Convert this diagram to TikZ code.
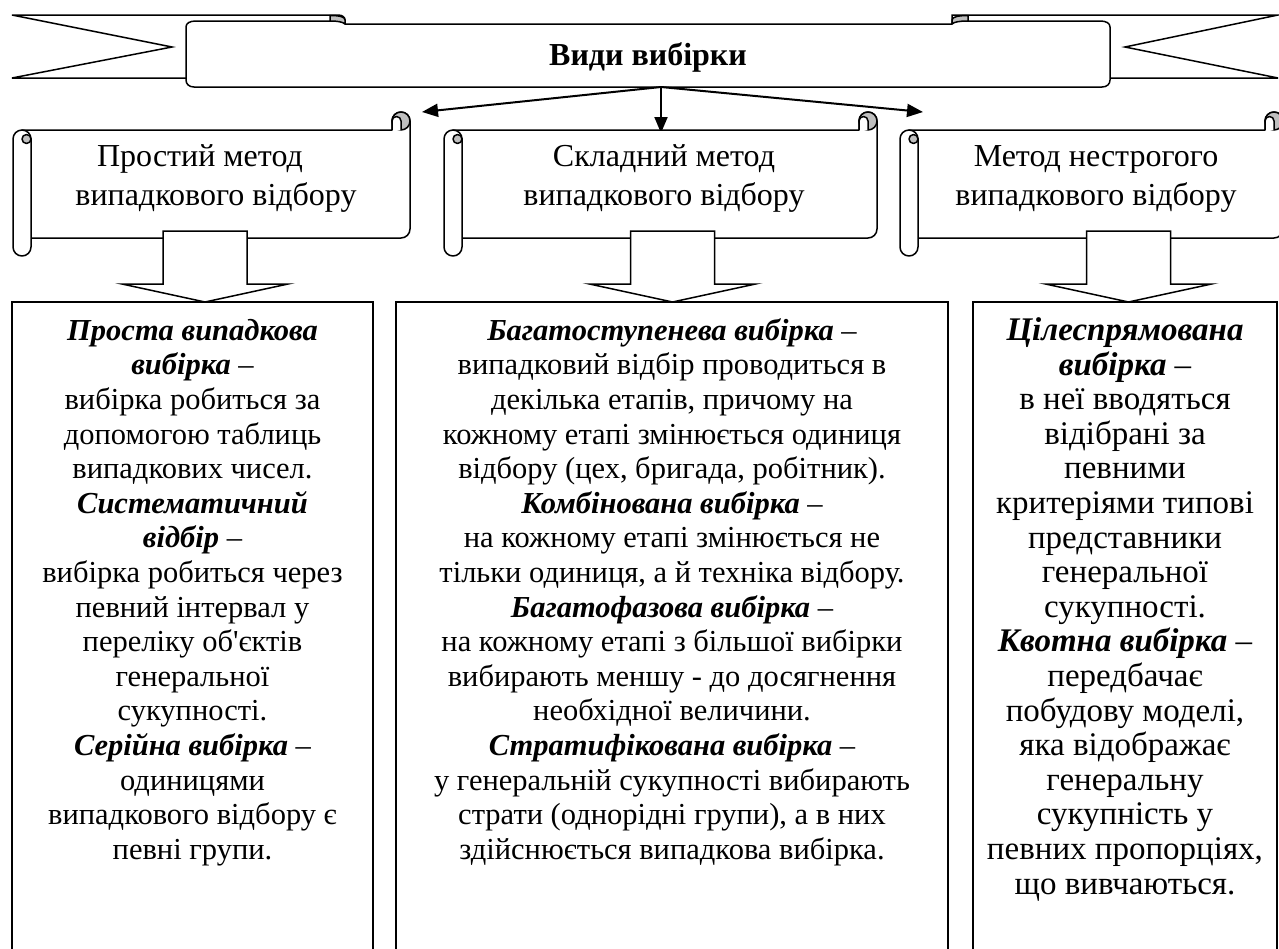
\documentclass[tikz,border=0pt]{standalone}
\usepackage{fontspec}
\setmainfont{Liberation Serif}[Ligatures=TeXOff]
\usetikzlibrary{arrows.meta}
\newcommand{\bfit}[1]{\textbf{\textit{#1}}}
\tikzset{
  ln/.style={line width=1.5pt, line join=round},
  boxline/.style={line width=1.8pt},
  arr/.style={line width=2pt, -{Triangle[length=16pt,width=13pt]}},
  bodytext/.style={font=\fontsize{30.5}{34.6}\selectfont, align=center, inner sep=0pt, anchor=north},
  bodytextb/.style={font=\fontsize{33}{34.6}\selectfont, align=center, inner sep=0pt, anchor=north},
  headtext/.style={font=\fontsize{32}{39}\selectfont, align=center, inner sep=0pt, anchor=north},
  curl/.style={fill=gray!50},
}
% horizontal scroll: #1 = left x, #2 = right x (top 112, bottom 256)
\newcommand{\hscroll}[2]{%
  \draw[ln, fill=white] (#1+9,130) -- (#2-18,130) -- (#2-18,121)
     .. controls (#2-18,116) and (#2-14,112) .. (#2-9,112)
     .. controls (#2-4,112) and (#2,116) .. (#2,121) -- (#2,229)
     .. controls (#2,234) and (#2-4,238) .. (#2-9,238) -- (#1+18,238) -- (#1+18,139) -- cycle;
  \filldraw[ln, curl] (#2-9,121) circle[radius=9];
  \filldraw[ln, fill=white] (#2-18,130) -- (#2-18,121)
     .. controls (#2-18,118.5) and (#2-16,116.5) .. (#2-13.5,116.5)
     .. controls (#2-11,116.5) and (#2-9,118.5) .. (#2-9,121) -- (#2-9,130);
  \draw[ln, fill=white] (#1,139) .. controls (#1,134) and (#1+4,130) .. (#1+9,130)
     .. controls (#1+14,130) and (#1+18,134) .. (#1+18,139) -- (#1+18,247)
     .. controls (#1+18,252) and (#1+14,256) .. (#1+9,256)
     .. controls (#1+4,256) and (#1,252) .. (#1,247) -- cycle;
  \filldraw[ln, curl] (#1+13.5,139) circle[radius=4.5];
}
% block arrow down: #1 = centre x
\newcommand{\blockdown}[1]{%
  \draw[ln, fill=white, line join=miter] (#1-42,231) -- (#1+42,231) -- (#1+42,284) -- (#1+83,284)
     -- (#1,302) -- (#1-83,284) -- (#1-42,284) -- cycle;
}
\begin{document}
\begin{tikzpicture}[x=1pt, y=1pt, yscale=-1]
\useasboundingbox (0,0) rectangle (1279,948);
\fill[white] (0,0) rectangle (1279,948);
\clip (0,0) rectangle (1279,948);

% ---- top banner ----
\fill[white] (12,15) -- (345,15) -- (345,78) -- (12,78) -- (172,47) -- cycle;
\draw[ln, line join=miter] (186,78) -- (12,78) -- (172,47) -- (12,15) -- (338,15)
   .. controls (342,15) and (345,17) .. (345,20) -- (345,24);
\fill[white] (952,15) -- (1278,15) -- (1125,47) -- (1278,78) -- (952,78) -- cycle;
\draw[ln, line join=miter] (1110,78) -- (1278,78) -- (1125,47) -- (1278,15) -- (952,15) -- (952,24);
\draw[ln, fill=white] (186,27) .. controls (186,23) and (190,21) .. (196,21) -- (335,21)
   .. controls (340,21) and (345,22) .. (345,24) -- (952,24)
   .. controls (952,22) and (956,21) .. (962,21) -- (1100,21)
   .. controls (1106,21) and (1110,23) .. (1110,27) -- (1110,80)
   .. controls (1110,84) and (1107,87) .. (1102,87) -- (194,87)
   .. controls (189,87) and (186,84) .. (186,80) -- cycle;
\filldraw[ln, curl] (330,15.5) .. controls (340,15.5) and (345,17) .. (345,20) -- (345,24)
   .. controls (343,22) and (338,21) .. (330,21) -- cycle;
\filldraw[ln, curl] (968,15.5) .. controls (958,15.5) and (952,17) .. (952,20) -- (952,24)
   .. controls (954,22) and (959,21) .. (968,21) -- cycle;
\node[font=\bfseries\fontsize{32}{38}\selectfont, anchor=base, inner sep=0pt] (title) at (648,65) {Види вибірки};

% ---- connectors from the banner ----
\coordinate (src) at (661,87);
\coordinate (s1in) at (422,112);
\coordinate (s2in) at (661,133);
\coordinate (s3in) at (923,112);
\draw[arr] (src) -- (s1in);
\draw[arr] (src) -- (s2in);
\draw[arr] (src) -- (s3in);

% ---- scrolls ----
\hscroll{13}{410}
\hscroll{444}{877}
\hscroll{900}{1283}
\node[headtext] (m1) at (216,138.7) {\strut Простий метод\hspace*{32pt}\\випадкового відбору};
\node[headtext] (m2) at (664,138.7) {\strut Складний метод\\випадкового відбору};
\node[headtext] (m3) at (1096,138.7) {\strut Метод нестрогого\\випадкового відбору};

% ---- boxes ----
\draw[boxline] (12,302) rectangle (373,960);
\draw[boxline] (396,302) rectangle (948,960);
\draw[boxline] (973,302) rectangle (1277,960);

% ---- block arrows ----
\blockdown{205}
\blockdown{672.5}
\blockdown{1128.5}

% ---- box texts ----
\node[bodytext] (t1) at (192.5,315.8) {\strut\bfit{Проста випадкова}\\ \bfit{вибірка} –\\ вибірка робиться за\\ допомогою таблиць\\ випадкових чисел.\\ \bfit{Систематичний}\\ \bfit{відбір} –\\ вибірка робиться через\\ певний інтервал у\\ переліку об'єктів\\ генеральної\\ сукупності.\\ \bfit{Серійна вибірка} –\\ одиницями\\ випадкового відбору є\\ певні групи.};
\node[bodytext] (t2) at (672,315.8) {\strut\bfit{Багатоступенева вибірка} –\\ випадковий відбір проводиться в\\ декілька етапів, причому на\\ кожному етапі змінюється одиниця\\ відбору (цех, бригада, робітник).\\ \bfit{Комбінована вибірка} –\\ на кожному етапі змінюється не\\ тільки одиниця, а й техніка відбору.\\ \bfit{Багатофазова вибірка} –\\ на кожному етапі з більшої вибірки\\ вибирають меншу - до досягнення\\ необхідної величини.\\ \bfit{Стратифікована вибірка} –\\ у генеральній сукупності вибирають\\ страти (однорідні групи), а в них\\ здійснюється випадкова вибірка.};
\node[bodytextb] (t3) at (1125,316) {\strut\bfit{Цілеспрямована}\\ \bfit{вибірка} –\\ в неї вводяться\\ відібрані за\\ певними\\ критеріями типові\\ представники\\ генеральної\\ сукупності.\\ \bfit{Квотна вибірка} –\\ передбачає\\ побудову моделі,\\ яка відображає\\ генеральну\\ сукупність у\\ певних пропорціях,\\ що вивчаються.};
\end{tikzpicture}
\end{document}
